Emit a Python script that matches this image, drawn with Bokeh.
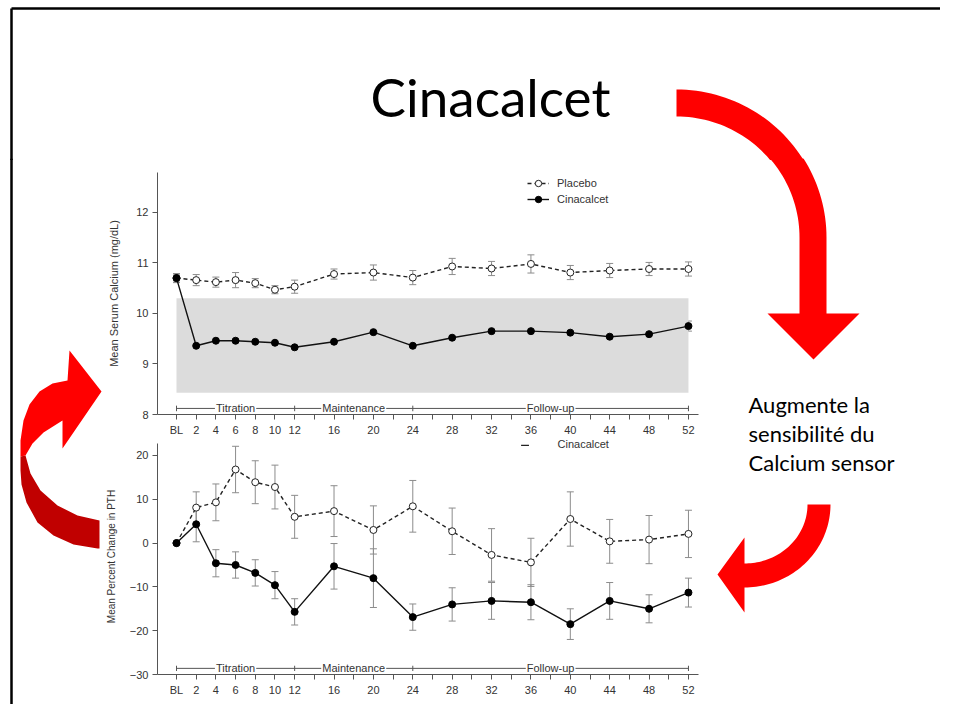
import numpy as np
from bokeh.plotting import figure
from bokeh.models import (Range1d, FixedTicker, Whisker, TeeHead, ColumnDataSource,
                          Legend, LegendItem)
from bokeh.layouts import column, row
from bokeh.core.properties import value
from bokeh.embed import file_html
from bokeh.resources import INLINE

# ---------------- data ----------------
weeks = [0, 2, 4, 6, 8, 10, 12, 16, 20, 24, 28, 32, 36, 40, 44, 48, 52]
week_labels = ["BL", "2", "4", "6", "8", "10", "12", "16", "20", "24", "28",
               "32", "36", "40", "44", "48", "52"]
week_ticks = list(range(0, 53, 2))

calcium_placebo = [10.70, 10.66, 10.62, 10.66, 10.60, 10.47, 10.53, 10.78, 10.81,
                   10.71, 10.93, 10.89, 10.98, 10.81, 10.85, 10.88, 10.88]
calcium_placebo_err = [0.09, 0.11, 0.10, 0.15, 0.09, 0.08, 0.13, 0.10, 0.15,
                       0.14, 0.16, 0.14, 0.18, 0.14, 0.14, 0.13, 0.14]
calcium_cina = [10.70, 9.36, 9.46, 9.46, 9.44, 9.42, 9.33, 9.44, 9.63,
                9.36, 9.52, 9.65, 9.65, 9.62, 9.54, 9.59, 9.75]
calcium_cina_err = [0.08, 0.10, 0.10, 0.10, 0.10, 0.08, 0.09, 0.09, 0.14,
                    0.10, 0.10, 0.12, 0.12, 0.10, 0.12, 0.13, 0.10]
calcium_target = [8.43, 10.30]
calcium_ticks = [8, 9, 10, 11, 12]

pth_placebo = [0, 8.1, 9.3, 16.8, 13.9, 12.8, 6.0, 7.3, 3.0, 8.4, 2.7, -2.7,
               -4.4, 5.5, 0.4, 0.8, 2.1]
pth_placebo_err = [0, 3.6, 4.2, 5.3, 4.9, 5.0, 4.9, 5.8, 5.5, 5.9, 5.3, 6.0,
                   5.5, 6.2, 5.0, 5.5, 5.4]
pth_cina = [0, 4.3, -4.6, -5.0, -6.8, -9.6, -15.7, -5.3, -8.0, -16.9, -14.0,
            -13.2, -13.5, -18.5, -13.2, -15.0, -11.3]
pth_cina_err = [0, 4.0, 3.1, 3.0, 3.0, 3.1, 3.0, 5.2, 6.7, 3.0, 3.8, 4.2,
                4.0, 3.5, 4.2, 3.2, 3.3]
pth_ticks = [-30, -20, -10, 0, 10, 20]

phase_names = ["Titration", "Maintenance", "Follow-up"]
phase_centers = [6, 18, 38]
phase_edges = [0, 12, 24, 52]

series_names = ["Placebo", "Cinacalcet"]
title_lines = ["Cinacalcet"]
note_lines = ["Augmente la", "sensibilité du", "Calcium sensor"]

# ---------------- style / geometry ----------------
FONT = "Liberation Sans"
SLIDE_FONT = "Lato"
AXIS = "#555555"
TXT = "#333333"
ERR = "#8c8c8c"
RED = "#ff0000"
DARK_RED = "#c00000"

W, H = 940, 704
TOP_H = 160
OV = 2                      # overlap of side strips into the top strip
LEFT_W = 102
MB_LEFT = 54
FRAME_W = 541
MB_RIGHT = 5
CHART_W = MB_LEFT + FRAME_W + MB_RIGHT
RIGHT_X0 = LEFT_W + CHART_W
RIGHT_W = W - RIGHT_X0


def deco_fig(w, h, xr, yr, transparent=False, **kw):
    p = figure(width=w, height=h, x_range=Range1d(*xr), y_range=Range1d(*yr),
               x_axis_type=None, y_axis_type=None, min_border=0,
               toolbar_location=None, output_backend="svg", **kw)
    p.outline_line_color = None
    p.grid.visible = False
    if transparent:
        p.background_fill_alpha = 0
        p.border_fill_alpha = 0
    else:
        p.background_fill_color = "white"
        p.border_fill_color = "white"
    return p


def arc(cx, cy, rx, ry, t0, t1, n=48):
    t = np.linspace(t0, t1, n)
    return list(cx + rx * np.cos(t)), list(cy + ry * np.sin(t))


# top-right arrow (pixel frame, y downwards)
ox, oy = arc(676, 237, 149, 148, -np.pi / 2, 0)
ix, iy = arc(676, 237, 122, 121, 0, -np.pi / 2)
arrow1_x = ox + [825, 858, 812, 766, 798] + ix
arrow1_y = oy + [313, 313, 359, 313, 313] + iy

# bottom-right arrow
ox2, oy2 = arc(743, 504, 86, 83, 0, np.pi / 2)
ix2, iy2 = arc(743, 504, 63, 59, np.pi / 2, 0)
arrow2_x = ox2 + [743, 716, 743, 743] + ix2
arrow2_y = oy2 + [612, 574, 537, 563] + iy2

# left curved arrow (two tones)
dark_pts = [(20, 456), (25, 455), (30, 473), (40, 490), (57, 505), (77, 515),
            (99, 520), (99, 548), (97, 548), (73, 544), (53, 535), (37, 522),
            (26, 502), (21, 484), (20, 470)]
bright_pts = [(69, 350), (101, 391), (62, 448), (62, 420), (43, 432), (32, 443),
              (25, 455), (20, 456), (20, 440), (23, 420), (29, 404), (39, 391),
              (52, 383), (67, 380)]

# ---------------- top strip ----------------
top = deco_fig(W, TOP_H, (0, W), (TOP_H, 0))
top.line([11, W], [8, 8], line_color="black", line_width=2.5)
top.line([11, 11], [8, TOP_H], line_color="black", line_width=2.5)
top.text(x=[490], y=[95.5], text=title_lines, text_align="center",
         text_baseline="alphabetic", text_font=value(SLIDE_FONT),
         text_font_size="53px", text_color="black")
top.patch(arrow1_x, arrow1_y, fill_color=RED, line_color=None)

# ---------------- left strip ----------------
left = deco_fig(LEFT_W, H - TOP_H + OV, (0, LEFT_W), (H, TOP_H - OV),
                transparent=True, margin=(-OV, 0, 0, 0))
left.line([11, 11], [TOP_H - OV, H], line_color="black", line_width=2.5)
left.patch([p[0] for p in dark_pts], [p[1] for p in dark_pts],
           fill_color=DARK_RED, line_color=None)
left.patch([p[0] for p in bright_pts], [p[1] for p in bright_pts],
           fill_color=RED, line_color=None)

# ---------------- right strip ----------------
right = deco_fig(RIGHT_W, H - TOP_H + OV, (RIGHT_X0, W), (H, TOP_H - OV),
                 transparent=True, margin=(-OV, 0, 0, 0))
right.patch(arrow1_x, arrow1_y, fill_color=RED, line_color=None)
right.patch(arrow2_x, arrow2_y, fill_color=RED, line_color=None)
right.text(x=[747] * 3, y=[404, 433, 462], text=note_lines, text_align="left",
           text_baseline="alphabetic", text_font=value(SLIDE_FONT),
           text_font_size="22px", text_color="black")


# ---------------- charts ----------------
def chart(frame_h, mb_top, mb_bottom, yr, yticks, ylabel, label_size, label_standoff):
    p = figure(frame_width=FRAME_W, frame_height=frame_h,
               x_range=Range1d(-1.93, 53.02), y_range=Range1d(*yr),
               min_border_left=MB_LEFT, min_border_right=MB_RIGHT,
               min_border_top=mb_top, min_border_bottom=mb_bottom,
               toolbar_location=None, output_backend="svg")
    p.outline_line_color = None
    p.grid.visible = False
    p.background_fill_color = "white"
    p.border_fill_color = "white"
    overrides = {t: "" for t in week_ticks}
    for w, lab in zip(weeks, week_labels):
        overrides[w] = lab
    p.xaxis.ticker = FixedTicker(ticks=week_ticks)
    p.xaxis.major_label_overrides = overrides
    p.yaxis.ticker = FixedTicker(ticks=yticks)
    for ax in (p.xaxis[0], p.yaxis[0]):
        ax.axis_line_color = AXIS
        ax.major_tick_line_color = AXIS
        ax.minor_tick_line_color = None
        ax.major_tick_in = 0
        ax.major_tick_out = 5
        ax.major_label_standoff = 4
        ax.major_label_text_font = FONT
        ax.major_label_text_font_size = "11px"
        ax.major_label_text_color = TXT
    p.yaxis.axis_label = ylabel
    p.yaxis.axis_label_text_font = FONT
    p.yaxis.axis_label_text_font_size = label_size
    p.yaxis.axis_label_text_font_style = "normal"
    p.yaxis.axis_label_text_color = TXT
    p.yaxis.axis_label_standoff = label_standoff
    return p


def add_phase_bar(p, yb, cap):
    p.segment(x0=[phase_edges[0]], x1=[phase_edges[-1]], y0=[yb], y1=[yb],
              line_color=AXIS, line_width=1)
    p.segment(x0=phase_edges, x1=phase_edges, y0=[yb - cap] * len(phase_edges),
              y1=[yb + cap] * len(phase_edges), line_color=AXIS, line_width=1)
    p.text(x=phase_centers, y=[yb] * len(phase_centers), text=phase_names,
           text_align="center", text_baseline="middle", text_font=value(FONT),
           text_font_size="11px", text_color=TXT,
           background_fill_color="white", padding=1)


def add_series(p, plac, plac_err, cina, cina_err):
    for vals, errs in ((plac, plac_err), (cina, cina_err)):
        src = ColumnDataSource(dict(x=weeks,
                                    lo=[v - e for v, e in zip(vals, errs)],
                                    hi=[v + e for v, e in zip(vals, errs)]))
        p.add_layout(Whisker(source=src, base="x", lower="lo", upper="hi",
                             line_color=ERR, line_width=1,
                             upper_head=TeeHead(size=7, line_color=ERR, line_width=1),
                             lower_head=TeeHead(size=7, line_color=ERR, line_width=1)))
    lp = p.line(weeks, plac, line_color="#222222", line_width=1.4, line_dash="4 3")
    sp = p.scatter(weeks, plac, size=7, marker="circle", fill_color="white",
                   line_color="#222222", line_width=1)
    lc = p.line(weeks, cina, line_color="#111111", line_width=1.4)
    sc = p.scatter(weeks, cina, size=7, marker="circle", fill_color="black",
                   line_color="black")
    return (lp, sp), (lc, sc)


# chart 1: serum calcium  (frame y 172..414)
c1 = chart(242, 12, 24, (8, 12.79), calcium_ticks, "Mean Serum Calcium (mg/dL)",
           "11px", 13)
c1.quad(left=[weeks[0]], right=[weeks[-1]], bottom=[calcium_target[0]],
        top=[calcium_target[1]], fill_color="#dcdcdc", line_color=None)
add_phase_bar(c1, 8.12, 0.055)
(p_r, c_r) = add_series(c1, calcium_placebo, calcium_placebo_err,
                        calcium_cina, calcium_cina_err)
leg = Legend(items=[LegendItem(label=series_names[0], renderers=list(p_r)),
                    LegendItem(label=series_names[1], renderers=list(c_r))],
             location=(370, 207), padding=0, margin=0, spacing=0,
             glyph_width=22, glyph_height=16, label_height=16, label_standoff=8,
             label_text_font=FONT, label_text_font_size="11px",
             label_text_color=TXT, background_fill_alpha=0, border_line_alpha=0)
c1.add_layout(leg)

# chart 2: PTH change  (frame y 438..674)
c2 = chart(236, 0, H - 674, (-30, 23.88), pth_ticks, "Mean Percent Change in PTH",
           "10px", 10)
c2.yaxis.bounds = (-30, 22.7)
add_phase_bar(c2, -28.6, 0.6)
add_series(c2, pth_placebo, pth_placebo_err, pth_cina, pth_cina_err)
# remnant of the lower panel's legend, just under the panel top
c2.segment(x0=[35.0], x1=[35.8], y0=[22.3], y1=[22.3], line_color="#222222",
           line_width=1.4)
c2.text(x=[38.7], y=[22.55], text=[series_names[1]], text_align="left",
        text_baseline="alphabetic", text_font=value(FONT),
        text_font_size="11px", text_color=TXT)

layout = column(top, row(left, column(c1, c2), right))

open("out.html", "w").write(file_html(layout, INLINE))
